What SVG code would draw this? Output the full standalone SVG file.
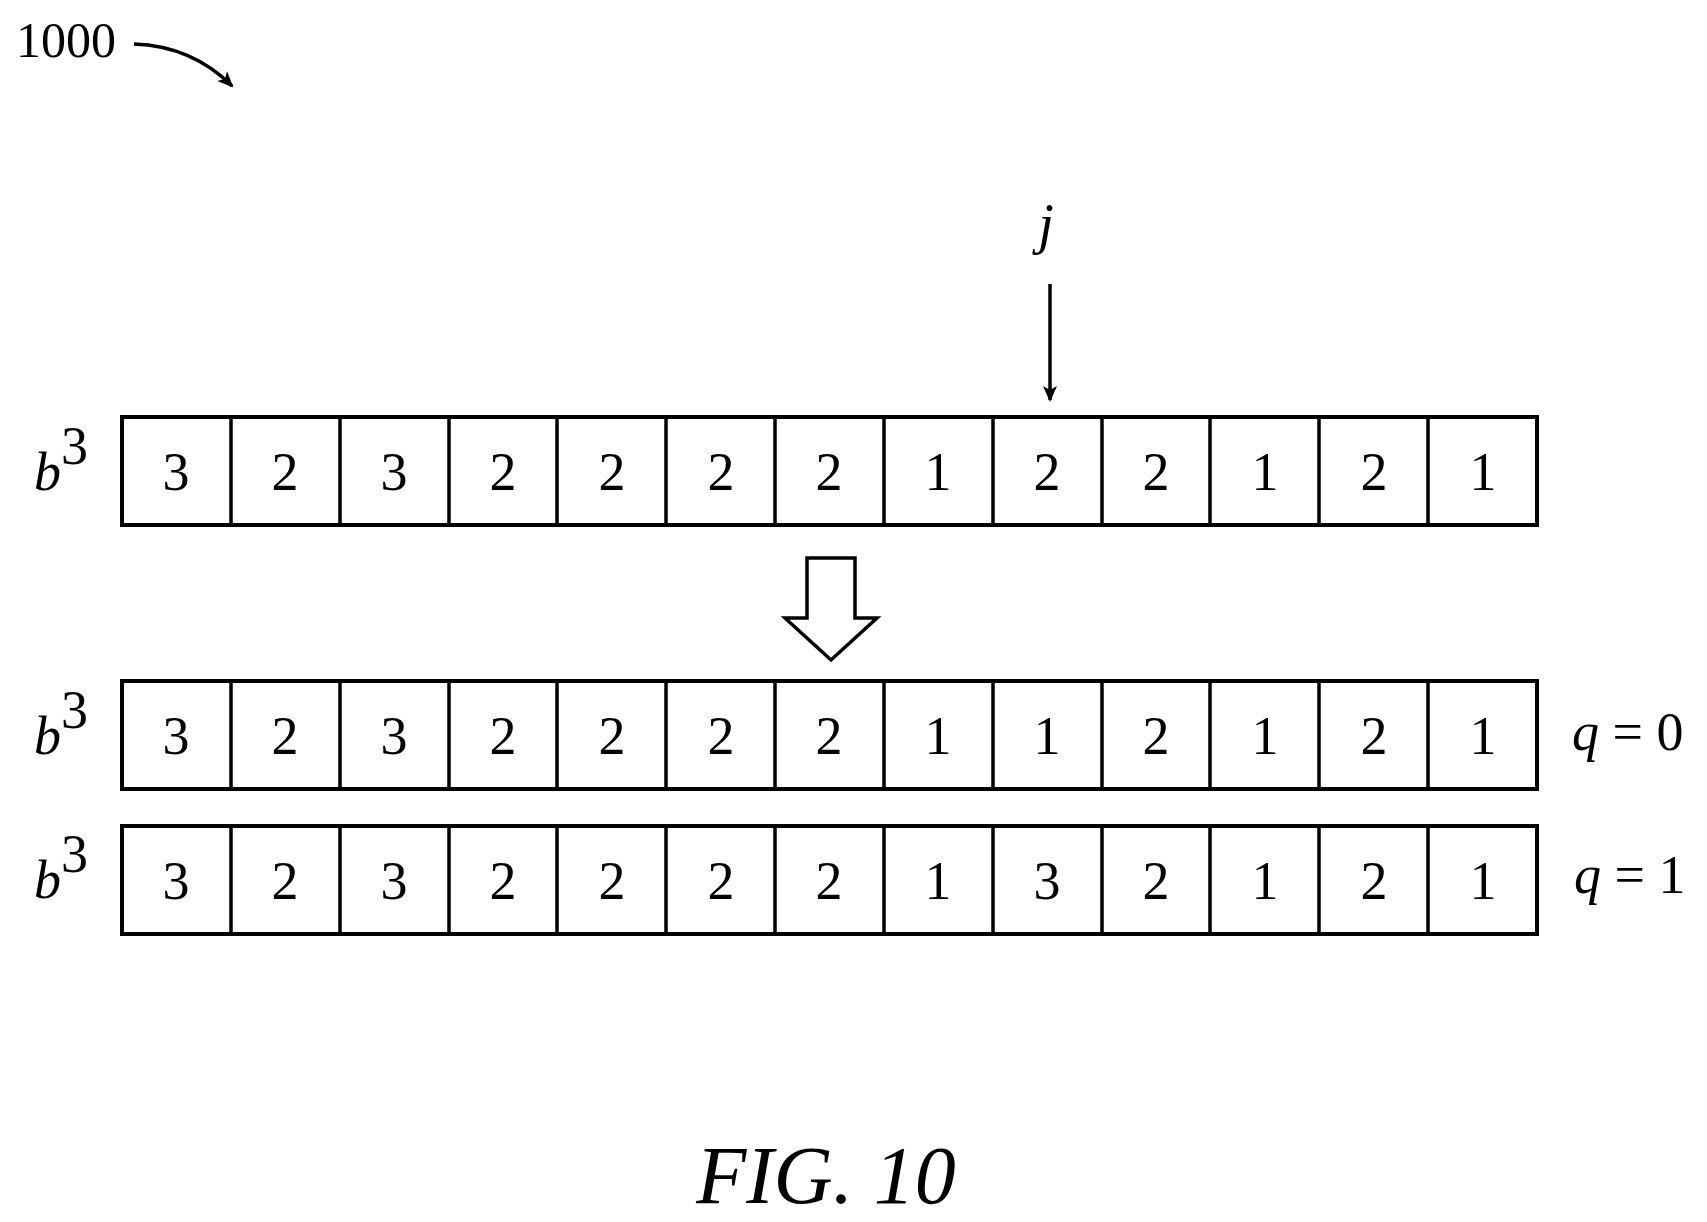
<svg xmlns="http://www.w3.org/2000/svg" width="1707" height="1222" viewBox="0 0 1707 1222">
<style>
.c{fill:#fff;stroke:#000;stroke-width:4}
.t{font-family:"Liberation Serif",serif;font-size:54px;text-anchor:middle}
.i{font-family:"Liberation Serif",serif;font-style:italic}
.l{stroke:#000;stroke-width:3.5;fill:none}
</style>
<defs><marker id="a" markerWidth="16" markerHeight="16" refX="14" refY="8" orient="auto" markerUnits="userSpaceOnUse"><path d="M0,1L16,8L0,15L4,8Z"/></marker></defs>
<rect width="1707" height="1222" fill="#fff"/>
<text x="16" y="57" font-family="Liberation Serif,serif" font-size="50">1000</text>
<g id="connectors">
<path class="l" d="M134,44 Q192,46 232,86" marker-end="url(#a)"/>
<line class="l" x1="1050" y1="284" x2="1050" y2="400" marker-end="url(#a)"/>
<path class="l" d="M807,558H855V618H877L831,660L785,618H807Z"/>
</g>
<text class="i" x="1046" y="243" font-size="56" text-anchor="middle">j</text>
<g id="row1"><rect class="c" x="122" y="417" width="1415" height="108"/></g>
<g id="row2"><rect class="c" x="122" y="681" width="1415" height="108"/></g>
<g id="row3"><rect class="c" x="122" y="826" width="1415" height="108"/></g>
<g class="l">
<path d="M231,417V525M340,417V525M449,417V525M557,417V525M666,417V525M775,417V525M884,417V525M993,417V525M1102,417V525M1210,417V525M1319,417V525M1428,417V525"/>
<path d="M231,681V789M340,681V789M449,681V789M557,681V789M666,681V789M775,681V789M884,681V789M993,681V789M1102,681V789M1210,681V789M1319,681V789M1428,681V789"/>
<path d="M231,826V934M340,826V934M449,826V934M557,826V934M666,826V934M775,826V934M884,826V934M993,826V934M1102,826V934M1210,826V934M1319,826V934M1428,826V934"/>
</g>
<g class="t">
<text x="176" y="490">3</text><text x="285" y="490">2</text><text x="394" y="490">3</text><text x="503" y="490">2</text><text x="612" y="490">2</text><text x="721" y="490">2</text><text x="829" y="490">2</text><text x="938" y="490">1</text><text x="1047" y="490">2</text><text x="1156" y="490">2</text><text x="1265" y="490">1</text><text x="1374" y="490">2</text><text x="1483" y="490">1</text>
<text x="176" y="754">3</text><text x="285" y="754">2</text><text x="394" y="754">3</text><text x="503" y="754">2</text><text x="612" y="754">2</text><text x="721" y="754">2</text><text x="829" y="754">2</text><text x="938" y="754">1</text><text x="1047" y="754">1</text><text x="1156" y="754">2</text><text x="1265" y="754">1</text><text x="1374" y="754">2</text><text x="1483" y="754">1</text>
<text x="176" y="899">3</text><text x="285" y="899">2</text><text x="394" y="899">3</text><text x="503" y="899">2</text><text x="612" y="899">2</text><text x="721" y="899">2</text><text x="829" y="899">2</text><text x="938" y="899">1</text><text x="1047" y="899">3</text><text x="1156" y="899">2</text><text x="1265" y="899">1</text><text x="1374" y="899">2</text><text x="1483" y="899">1</text>
</g>
<g font-family="Liberation Serif,serif" font-size="54">
<text x="34" y="490"><tspan font-style="italic">b</tspan><tspan dy="-26">3</tspan></text>
<text x="34" y="754"><tspan font-style="italic">b</tspan><tspan dy="-26">3</tspan></text>
<text x="34" y="898"><tspan font-style="italic">b</tspan><tspan dy="-26">3</tspan></text>
<text x="1572" y="750"><tspan font-style="italic">q</tspan> = 0</text>
<text x="1574" y="893"><tspan font-style="italic">q</tspan> = 1</text>
</g>
<text class="i" x="826" y="1203" font-size="82" text-anchor="middle">FIG. 10</text>
</svg>
